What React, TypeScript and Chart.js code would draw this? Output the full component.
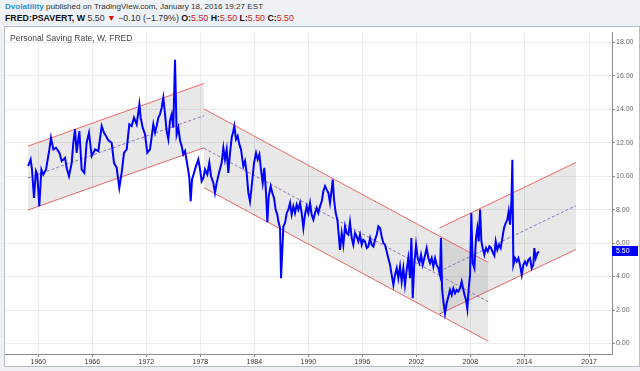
import React, { useEffect, useRef } from "react";
import { Chart, registerables } from "chart.js";

Chart.register(...registerables);

// Personal saving rate (%)
const dates = [
  1958.86, 1959.15, 1959.3, 1959.52, 1959.74, 1959.89, 1960.11, 1960.34, 1960.56, 1960.86,
  1961.23, 1961.41, 1961.67, 1961.97, 1962.34, 1962.6, 1962.97, 1963.15, 1963.41, 1963.71,
  1963.89, 1964.08, 1964.26, 1964.56, 1964.82, 1965.11, 1965.37, 1965.63, 1965.93, 1966.3,
  1966.67, 1967.04, 1967.3, 1967.52, 1967.78, 1968.15, 1968.41, 1968.71, 1969.0, 1969.26,
  1969.52, 1969.82, 1970.11, 1970.37, 1970.63, 1970.93, 1971.23, 1971.37, 1971.6, 1971.86,
  1972.11, 1972.41, 1972.78, 1972.97, 1973.15, 1973.34, 1973.52, 1973.71, 1973.89, 1974.08,
  1974.26, 1974.45, 1974.63, 1974.82, 1975.0, 1975.19, 1975.37, 1975.56, 1975.74, 1975.93,
  1976.11, 1976.3, 1976.49, 1976.67, 1976.78, 1976.93, 1977.08, 1977.3, 1977.52, 1977.78,
  1977.97, 1978.15, 1978.34, 1978.52, 1978.78, 1979.0, 1979.19, 1979.45, 1979.63, 1979.82,
  1980.08, 1980.37, 1980.56, 1980.74, 1980.93, 1981.11, 1981.3, 1981.49, 1981.67, 1981.78,
  1981.97, 1982.15, 1982.34, 1982.52, 1982.78, 1982.97, 1983.15, 1983.34, 1983.52, 1983.71,
  1983.97, 1984.19, 1984.37, 1984.56, 1984.74, 1984.93, 1985.11, 1985.3, 1985.45, 1985.6,
  1985.82, 1986.0, 1986.19, 1986.37, 1986.56, 1986.67, 1986.86, 1986.97, 1987.23, 1987.41,
  1987.6, 1987.78, 1987.97, 1988.15, 1988.34, 1988.52, 1988.71, 1988.89, 1989.08, 1989.26,
  1989.45, 1989.63, 1989.82, 1990.0, 1990.19, 1990.37, 1990.56, 1990.74, 1990.93, 1991.11,
  1991.3, 1991.49, 1991.67, 1991.86, 1992.04, 1992.23, 1992.41, 1992.6, 1992.71, 1992.86,
  1993.04, 1993.23, 1993.41, 1993.52, 1993.71, 1993.89, 1994.08, 1994.26, 1994.45, 1994.63,
  1994.82, 1995.0, 1995.19, 1995.37, 1995.56, 1995.74, 1995.93, 1996.11, 1996.3, 1996.49,
  1996.67, 1996.86, 1997.04, 1997.23, 1997.41, 1997.6, 1997.78, 1997.97, 1998.15, 1998.34,
  1998.52, 1998.71, 1998.89, 1999.08, 1999.26, 1999.45, 1999.63, 1999.82, 2000.0, 2000.19,
  2000.37, 2000.56, 2000.74, 2000.93, 2001.11, 2001.3, 2001.45, 2001.6, 2001.78, 2001.97,
  2002.15, 2002.34, 2002.52, 2002.71, 2002.89, 2003.15, 2003.34, 2003.52, 2003.71, 2003.89,
  2004.08, 2004.26, 2004.45, 2004.63, 2004.74, 2004.86, 2005.0, 2005.19, 2005.37, 2005.56,
  2005.74, 2005.93, 2006.11, 2006.3, 2006.49, 2006.67, 2006.86, 2007.04, 2007.23, 2007.41,
  2007.52, 2007.67, 2007.82, 2007.97, 2008.11, 2008.26, 2008.45, 2008.63, 2008.78, 2008.93,
  2009.08, 2009.23, 2009.37, 2009.56, 2009.74, 2009.93, 2010.11, 2010.3, 2010.49, 2010.67,
  2010.82, 2011.0, 2011.19, 2011.37, 2011.56, 2011.74, 2011.93, 2012.11, 2012.26, 2012.41,
  2012.56, 2012.67, 2012.78, 2012.97, 2013.15, 2013.34, 2013.52, 2013.71, 2013.89, 2014.08,
  2014.26, 2014.45, 2014.63, 2014.82, 2015.0, 2015.11, 2015.26, 2015.45, 2015.63,
];
const rate = [
  10.6, 11.0, 10.4, 8.7, 10.3, 10.1, 8.2, 10.4, 10.1, 10.4,
  11.6, 12.3, 11.6, 11.7, 11.4, 10.9, 11.1, 10.5, 10.0, 10.8,
  12.0, 12.8, 11.4, 12.7, 10.4, 10.2, 12.0, 12.6, 11.2, 11.6,
  11.5, 13.0, 12.6, 12.4, 12.15, 12.0, 10.8, 10.5, 9.3, 10.2,
  11.4, 11.6, 13.1, 13.0, 13.5, 13.1, 14.3, 13.5, 12.9, 12.5,
  11.4, 11.6, 13.1, 12.6, 13.0, 13.5, 13.7, 14.1, 14.7, 13.7,
  12.7, 12.2, 13.3, 13.7, 12.9, 16.96, 12.5, 12.9, 12.15, 11.8,
  11.3, 11.5, 10.9, 10.3, 9.9, 8.5, 9.8, 10.2, 10.6, 11.0,
  10.4, 9.7, 9.9, 10.4, 10.1, 10.8, 10.0, 9.6, 9.0, 9.6,
  10.2, 10.8, 11.7, 11.0, 11.6, 10.2, 11.4, 12.3, 12.7, 13.0,
  12.2, 12.4, 11.9, 11.6, 10.6, 10.9, 10.2, 9.0, 8.5, 9.4,
  10.8, 11.4, 11.0, 11.3, 10.4, 9.6, 10.5, 9.0, 7.25, 8.8,
  9.4, 9.0, 8.7, 8.0, 7.7, 7.3, 6.9, 3.9, 7.0, 7.2,
  7.8, 8.0, 8.4, 7.7, 8.2, 7.8, 8.3, 8.0, 8.4, 7.8,
  6.9, 7.7, 8.2, 7.8, 8.4, 7.7, 7.4, 7.8, 8.1, 7.8,
  8.2, 8.5, 9.1, 9.4, 9.2, 9.0, 8.4, 9.2, 9.8, 8.6,
  7.8, 7.4, 6.3, 5.6, 6.6, 5.9, 7.0, 6.6, 6.5, 7.25,
  6.3, 5.9, 6.6, 6.4, 6.1, 6.5, 5.9, 6.2, 6.1, 5.7,
  5.8, 6.3, 5.9, 5.8, 6.2, 6.5, 7.0, 6.9, 6.4, 6.0,
  5.9, 5.5, 5.1, 4.7, 4.1, 3.5, 4.1, 4.5, 3.9, 4.6,
  3.7, 4.5, 3.5, 4.4, 5.1, 3.9, 6.3, 2.7, 4.8, 5.9,
  5.1, 4.8, 5.3, 4.7, 5.1, 5.7, 5.1, 4.8, 5.1, 4.6,
  5.1, 4.7, 4.5, 4.1, 6.3, 3.3, 2.55, 1.8, 2.4, 2.8,
  3.2, 2.9, 3.3, 3.0, 3.2, 3.1, 3.3, 3.7, 3.2, 2.8,
  2.6, 2.06, 3.3, 4.1, 7.8, 4.8, 4.5, 6.3, 6.9, 6.1,
  8.0, 6.1, 5.7, 5.3, 5.7, 5.5, 5.8, 5.7, 5.45, 5.25,
  6.1, 5.6, 5.9, 5.7, 6.3, 6.9, 7.2, 7.4, 7.9, 7.1,
  8.4, 10.98, 4.7, 5.1, 4.9, 5.1, 4.7, 4.1, 4.7, 4.9,
  4.7, 5.0, 5.1, 4.5, 4.7, 5.7, 5.1, 5.4, 5.5,
];
const lastValue = 5.5;

// Regression channels: [start, end] of each edge
const ch1Dates = [1958.86, 1978.41];
const ch1Upper = [11.8, 15.55];
const ch1Mid = [9.9, 13.62];
const ch1Lower = [7.98, 11.7];
const ch2Dates = [1978.41, 2010.0];
const ch2Upper = [14.02, 4.84];
const ch2Mid = [11.67, 2.49];
const ch2Lower = [9.31, 0.13];
const ch3Dates = [2004.56, 2019.74];
const ch3Upper = [6.9, 10.82];
const ch3Mid = [4.31, 8.24];
const ch3Lower = [1.76, 5.62];

const xTickValues = [1960, 1966, 1972, 1978, 1984, 1990, 1996, 2002, 2008, 2014, 2021.2];
const xTickLabels = ["1960", "1966", "1972", "1978", "1984", "1990", "1996", "2002", "2008", "2014", "2017"];
const yTickValues = [0, 2, 4, 6, 8, 10, 12, 14, 16, 18];

const FONT = "'Liberation Sans', Arial, sans-serif";
const RED = "#f26565";
const MID = "#9a72c8";
const FILL = "rgba(120,120,120,0.17)";

function pts(xs: number[], ys: number[]) {
  return xs.map((x, i) => ({ x, y: ys[i] }));
}

export default function App() {
  const ref = useRef<HTMLCanvasElement | null>(null);

  useEffect(() => {
    if (!ref.current) return;
    const edge = (data: any, color: string, dash: number[] = [], fill: any = false) => ({
      data,
      borderColor: color,
      borderWidth: 1,
      borderDash: dash,
      pointRadius: 0,
      fill,
      backgroundColor: FILL,
      tension: 0,
    });
    const priceLabel = {
      id: "priceLabel",
      afterDraw(chart: any) {
        const { ctx } = chart;
        const ys = chart.scales.y;
        const xa = chart.chartArea;
        const py = ys.getPixelForValue(lastValue);
        ctx.save();
        ctx.fillStyle = "#0000ff";
        ctx.fillRect(xa.right, Math.round(py) - 5, 26, 10);
        ctx.fillStyle = "#ffffff";
        ctx.font = "7px " + FONT;
        ctx.textBaseline = "middle";
        ctx.textAlign = "left";
        ctx.fillText(lastValue.toFixed(2), xa.right + 4, Math.round(py) + 0.5);
        ctx.restore();
      },
    };
    const chart = new Chart(ref.current, {
      type: "line",
      data: {
        datasets: [
          {
            data: pts(dates, rate),
            borderColor: "#0000ff",
            borderWidth: 2,
            pointRadius: 0,
            tension: 0,
            fill: false,
          },
          edge(pts(ch1Dates, ch1Upper), RED, [], 3),
          edge(pts(ch1Dates, ch1Mid), MID, [3, 2]),
          edge(pts(ch1Dates, ch1Lower), RED),
          edge(pts(ch2Dates, ch2Upper), RED, [], 6),
          edge(pts(ch2Dates, ch2Mid), MID, [3, 2]),
          edge(pts(ch2Dates, ch2Lower), RED),
          edge(pts(ch3Dates, ch3Upper), RED, [], 9),
          edge(pts(ch3Dates, ch3Mid), MID, [3, 2]),
          edge(pts(ch3Dates, ch3Lower), RED),
        ] as any,
      },
      options: {
        animation: false,
        responsive: false,
        maintainAspectRatio: false,
        layout: { padding: 0 },
        plugins: {
          legend: { display: false },
          tooltip: { enabled: false },
        },
        scales: {
          x: {
            type: "linear",
            min: 1956.3,
            max: 2023.74,
            afterBuildTicks: (s: any) => {
              s.ticks = xTickValues.map((v) => ({ value: v }));
            },
            afterFit: (s: any) => {
              s.height = 12;
            },
            ticks: {
              autoSkip: false,
              maxRotation: 0,
              padding: 1,
              color: "#333",
              font: { family: FONT, size: 7 },
              callback: (_v: any, i: number) => xTickLabels[i],
            },
            grid: { color: "#ececec", tickLength: 3, tickColor: "#888" },
            border: { color: "#8c8c8c", width: 1 },
          },
          y: {
            position: "right",
            min: -0.63,
            max: 18.61,
            afterBuildTicks: (s: any) => {
              s.ticks = yTickValues.map((v) => ({ value: v }));
            },
            afterFit: (s: any) => {
              s.width = 27;
            },
            ticks: {
              padding: 1,
              color: "#666",
              font: { family: FONT, size: 7 },
              callback: (v: any) => Number(v).toFixed(2),
            },
            grid: { color: "#ececec", tickLength: 3, tickColor: "#888" },
            border: { color: "#8c8c8c", width: 1 },
          },
        },
      },
      plugins: [priceLabel],
    } as any);
    return () => chart.destroy();
  }, []);

  return (
    <div style={{ position: "fixed", left: 0, top: 0, width: 640, height: 371, background: "#eef1f6", overflow: "hidden", fontFamily: FONT }}>
      <div style={{ position: "absolute", left: 5, top: 1, fontSize: 8.1, color: "#333", whiteSpace: "nowrap", lineHeight: "11px" }}>
        <span style={{ color: "#2f8fd8", fontWeight: "bold" }}>Dvolatility</span> published on TradingView.com, January 18, 2016 19:27 EST
      </div>
      <div style={{ position: "absolute", left: 5, top: 13, fontSize: 8.8, color: "#333", whiteSpace: "nowrap", lineHeight: "11px" }}>
        <b style={{ color: "#111" }}>FRED:PSAVERT, W</b> 5.50 <span style={{ color: "#d01010" }}>▼</span> −0.10 (−1.79%){" "}
        <b style={{ color: "#111" }}>O:</b><span style={{ color: "#d02020" }}>5.50</span>{" "}
        <b style={{ color: "#111" }}>H:</b><span style={{ color: "#d02020" }}>5.50</span>{" "}
        <b style={{ color: "#111" }}>L:</b><span style={{ color: "#d02020" }}>5.50</span>{" "}
        <b style={{ color: "#111" }}>C:</b><span style={{ color: "#d02020" }}>5.50</span>
      </div>
      <div style={{ position: "absolute", left: 4, top: 26, width: 636, height: 341, boxSizing: "border-box", border: "1px solid #b9bdc4", background: "#ffffff" }}>
        <canvas ref={ref} width={634} height={339} style={{ display: "block", width: 634, height: 339 }} />
        <div style={{ position: "absolute", left: 5, top: 6, fontSize: 8.5, color: "#444", whiteSpace: "nowrap", lineHeight: "10px" }}>
          Personal Saving Rate, W, FRED
        </div>
      </div>
    </div>
  );
}
